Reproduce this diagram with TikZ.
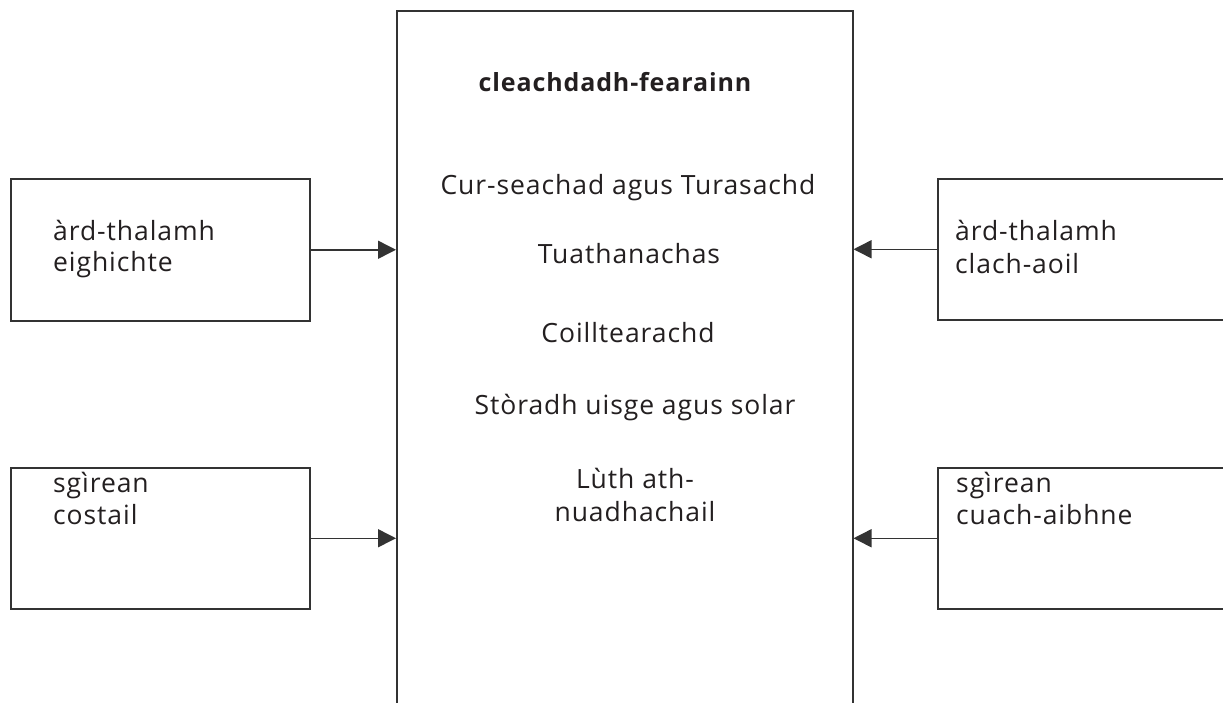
\documentclass[tikz,border=0pt]{standalone}
\usepackage{fontspec}
\setmainfont{Open Sans}[LetterSpace=3.5]
\usetikzlibrary{arrows.meta}
\definecolor{ink}{HTML}{231F20}
\definecolor{edge}{HTML}{333333}
\begin{document}
\begin{tikzpicture}[x=1pt,y=-1pt,
  box/.style={draw=edge, line width=1.5pt, rectangle, anchor=north west, inner sep=0pt},
  txt/.style={text=ink, font=\fontsize{26.5}{32}\selectfont, inner sep=0pt},
  arr/.style={draw=edge, line width=1.5pt, -{Triangle[length=18pt,width=18pt]}}]
\useasboundingbox (0,0) rectangle (1223,702);
\clip (0,0) rectangle (1223,702);
% boxes
\node[box, minimum width=456pt, minimum height=720pt] (c) at (396,10) {};
\node[box, minimum width=299pt, minimum height=142pt] (lt) at (10,178) {};
\node[box, minimum width=299pt, minimum height=141pt] (lb) at (10,467) {};
\node[box, minimum width=310pt, minimum height=141pt] (rt) at (937,178) {};
\node[box, minimum width=310pt, minimum height=141pt] (rb) at (937,467) {};
% box texts
\node[txt, anchor=base west] (lt1) at (53,240) {àrd-thalamh};
\node[txt, anchor=base west] (lt2) at (53,271) {eighichte};
\node[txt, anchor=base west] (lb1) at (53,492) {sgìrean};
\node[txt, anchor=base west] (lb2) at (53,524) {costail};
\node[txt, anchor=base west] (rt1) at (955,240) {àrd-thalamh};
\node[txt, anchor=base west] (rt2) at (955,273) {clach-aoil};
\node[txt, anchor=base west] (rb1) at (956,492) {sgìrean};
\node[txt, anchor=base west] (rb2) at (956,524) {cuach-aibhne};
% central texts
\node[txt, anchor=base, font=\fontsize{25}{30}\selectfont\bfseries] (t0) at (615,91) {cleachdadh-fearainn};
\node[txt, anchor=base] (t1) at (628,194) {Cur-seachad agus Turasachd};
\node[txt, anchor=base] (t2) at (629,263) {Tuathanachas};
\node[txt, anchor=base] (t3) at (628,342) {Coilltearachd};
\node[txt, anchor=base] (t4) at (635,414) {Stòradh uisge agus solar};
\node[txt, anchor=base] (t5) at (635,488) {Lùth ath-};
\node[txt, anchor=base] (t6) at (635,521) {nuadhachail};
% arrows
\draw[arr] (lt.east) -- (lt.east -| c.west);
\draw[arr] (lb.east) -- (lb.east -| c.west);
\draw[arr] (rt.west) -- (rt.west -| c.east);
\draw[arr] (rb.west) -- (rb.west -| c.east);
\end{tikzpicture}
\end{document}
